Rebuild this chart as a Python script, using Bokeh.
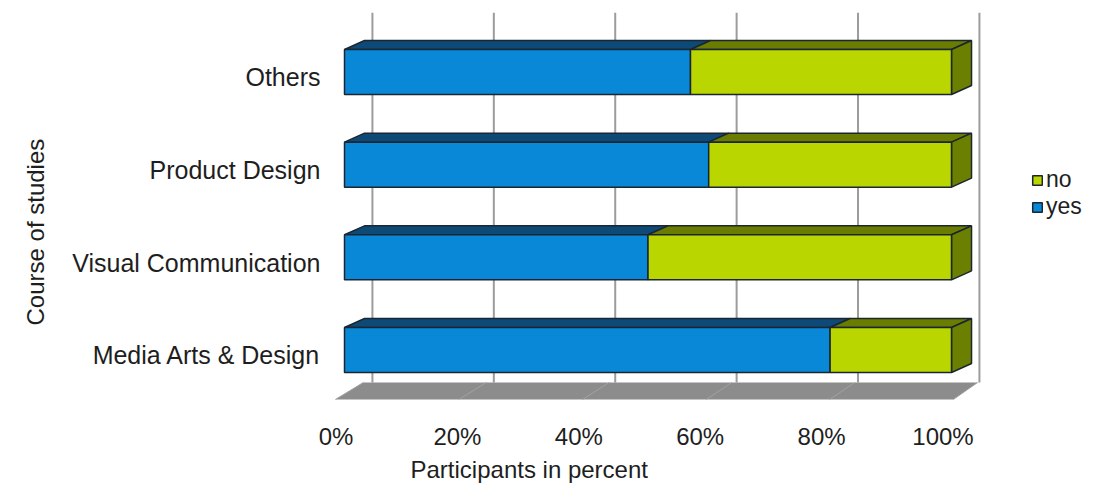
from bokeh.plotting import figure
from bokeh.models import Range1d, LinearAxis, FixedTicker, Legend, LegendItem, Title
from bokeh.embed import file_html
from bokeh.resources import INLINE

# ---- data (bottom to top) ----
categories = ["Media Arts & Design", "Visual Communication", "Product Design", "Others"]
yes_pct = [80, 50, 60, 57]
no_pct = [20, 50, 40, 43]
tick_values = [0, 20, 40, 60, 80, 100]
tick_labels = ["0%", "20%", "40%", "60%", "80%", "100%"]
x_title = "Participants in percent"
y_title = "Course of studies"

# ---- style / geometry constants ----
FONT = "Liberation Sans"
TXT = "#1e1e1e"
BLUE, BLUE_TOP = "#0a88d8", "#0d4a78"
GREEN, GREEN_TOP, GREEN_SIDE = "#b9d600", "#6a7d00", "#6b7f00"
EDGE = "#1b2630"
BAR_H = 0.486          # bar thickness in category units
DX, DY = 3.3, 0.097    # bar depth offset (x in %, y in category units)
WALL_DX = 4.6          # back wall offset in %
GRID_TOP, FLOOR_BACK, FLOOR_FRONT = 3.64, -0.351, -0.534

PPX, PPY = 6.07, 92.67
x_start = (330 - 344) / PPX
x_end = x_start + 760 / PPX
y_start, y_end = -0.6529, 3.6851

p = figure(frame_width=760, frame_height=402, min_border_left=330, min_border_right=0,
           min_border_top=8, min_border_bottom=73,
           x_range=Range1d(x_start, x_end), y_range=Range1d(y_start, y_end),
           x_axis_location=None, y_axis_location=None,
           output_backend="svg", toolbar_location=None,
           background_fill_color="white", border_fill_color="white")
p.outline_line_color = None
p.xgrid.visible = False
p.ygrid.visible = False

# ---- back wall gridlines ----
gx = [v + WALL_DX for v in tick_values]
p.segment(x0=gx, y0=[FLOOR_BACK] * len(gx), x1=gx, y1=[GRID_TOP] * len(gx),
          line_color="#9c9c9c", line_width=2)

# ---- floor ----
lo, hi = tick_values[0], tick_values[-1]
p.patch(x=[lo - 1.5, hi + 0.3, hi + 4.3, lo + 3.1],
        y=[FLOOR_FRONT, FLOOR_FRONT, FLOOR_BACK, FLOOR_BACK],
        fill_color="#8c8c8c", line_color=None)
fx0 = [v * 1.012 + 3.1 for v in tick_values]
fx1 = [v * 1.018 - 1.5 for v in tick_values]
p.segment(x0=fx0, y0=[FLOOR_BACK] * len(fx0), x1=fx1, y1=[FLOOR_FRONT] * len(fx1),
          line_color="#a2a2a2", line_width=1)

# ---- bars ----
yc = list(range(len(categories)))
bot = [c - BAR_H / 2 for c in yc]
top = [c + BAR_H / 2 for c in yc]
yes_end = yes_pct
no_end = [a + b for a, b in zip(yes_pct, no_pct)]

# top faces
p.patches(xs=[[0, e, e + DX, DX] for e in yes_end],
          ys=[[t, t, t + DY, t + DY] for t in top],
          fill_color=BLUE_TOP, line_color=EDGE, line_width=1.5)
p.patches(xs=[[s, e, e + DX, s + DX] for s, e in zip(yes_end, no_end)],
          ys=[[t, t, t + DY, t + DY] for t in top],
          fill_color=GREEN_TOP, line_color=EDGE, line_width=1.5)
# right side faces
p.patches(xs=[[e, e, e + DX, e + DX] for e in no_end],
          ys=[[b, t, t + DY, b + DY] for b, t in zip(bot, top)],
          fill_color=GREEN_SIDE, line_color=EDGE, line_width=1.5)
# front faces
r_yes = p.quad(left=[0] * len(yc), right=yes_end, bottom=bot, top=top,
               fill_color=BLUE, line_color=EDGE, line_width=1.5)
r_no = p.quad(left=yes_end, right=no_end, bottom=bot, top=top,
              fill_color=GREEN, line_color=EDGE, line_width=1.5)

# ---- y axis (categories), labels sit slightly below bar centres ----
YSHIFT = 0.059
SHIFT = 1.4
p.extra_y_ranges = {"ylab": Range1d(y_start + YSHIFT, y_end + YSHIFT)}
p.extra_x_ranges = {"lab": Range1d(x_start + SHIFT, x_end + SHIFT)}

ya = LinearAxis(y_range_name="ylab")
ya.ticker = FixedTicker(ticks=yc)
ya.major_label_overrides = {i: c for i, c in zip(yc, categories)}
ya.axis_line_color = None
ya.major_tick_line_color = None
ya.minor_tick_line_color = None
ya.major_tick_out = 0
ya.major_tick_in = 0
ya.major_label_standoff = 10
ya.major_label_text_font = FONT
ya.major_label_text_font_size = "25px"
ya.major_label_text_color = TXT
p.add_layout(ya, "left")

# ---- x axis (labels shifted to sit under the floor) ----
xa = LinearAxis(x_range_name="lab")
xa.ticker = FixedTicker(ticks=tick_values)
xa.major_label_overrides = {v: l for v, l in zip(tick_values, tick_labels)}
xa.axis_line_color = None
xa.major_tick_line_color = None
xa.minor_tick_line_color = None
xa.major_tick_out = 0
xa.major_tick_in = 0
xa.major_label_standoff = 12
xa.major_label_text_font = FONT
xa.major_label_text_font_size = "24px"
xa.major_label_text_color = TXT
p.add_layout(xa, "below")

# ---- axis titles ----
p.add_layout(Title(text=x_title, align="left", offset=80, standoff=2,
                   text_font=FONT, text_font_size="24px", text_font_style="normal",
                   text_color=TXT), "below")
p.add_layout(Title(text=y_title, align="left", offset=85, standoff=38,
                   vertical_align="top",
                   text_font=FONT, text_font_size="24px", text_font_style="normal",
                   text_color=TXT), "left")

# ---- legend ----
legend = Legend(items=[LegendItem(label="no", renderers=[r_no]),
                       LegendItem(label="yes", renderers=[r_yes])],
                location=(701, 190), orientation="vertical",
                glyph_width=12, glyph_height=12, label_standoff=3, spacing=0,
                padding=0, margin=0, border_line_alpha=0, background_fill_alpha=0,
                label_text_font=FONT, label_text_font_size="23px",
                label_text_color=TXT, label_height=24)
p.add_layout(legend, "center")

open("out.html", "w").write(file_html(p, INLINE))
